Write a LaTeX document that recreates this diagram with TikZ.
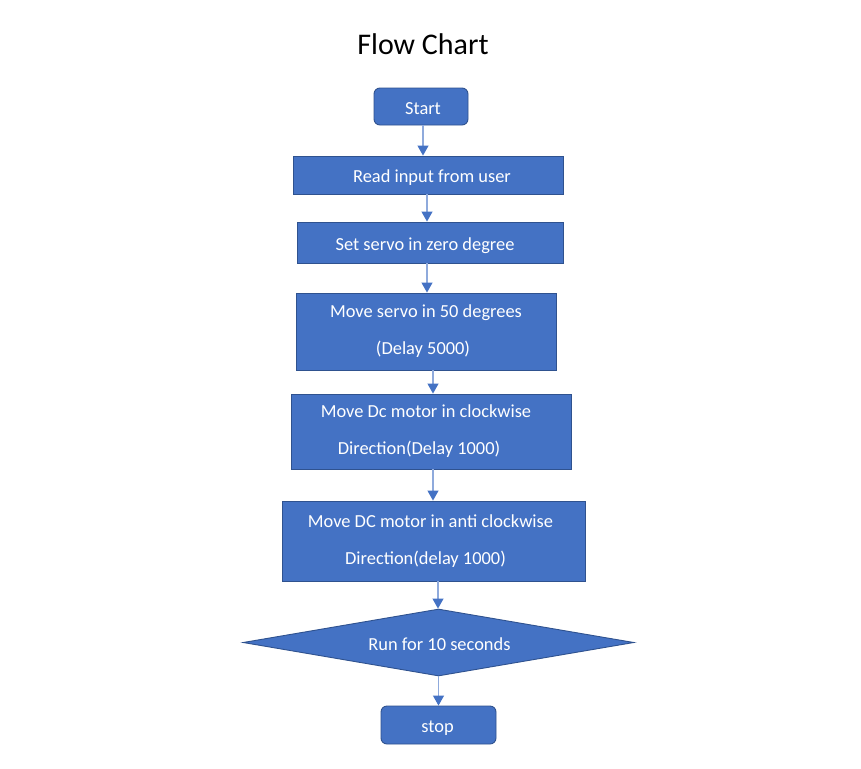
\documentclass[tikz,border=0pt]{standalone}
\usepackage{fontspec}
\setmainfont{Carlito}
\usetikzlibrary{shapes.geometric,arrows.meta}
\definecolor{boxfill}{HTML}{4472C4}
\definecolor{boxline}{HTML}{2F528F}
\definecolor{arrline}{HTML}{8FAADC}
\newcommand\shiftln[2]{\hspace*{#1}#2\hspace*{-#1}}
\begin{document}
\begin{tikzpicture}[x=1pt,y=-1pt,
  procbox/.style={draw=boxline,fill=boxfill,line width=0.9pt,text=white,inner sep=0pt,
    font=\fontsize{18.4}{38}\selectfont,align=center},
  onebox/.style={procbox,text height=15pt,text depth=0pt},
  termbox/.style={onebox,rounded corners=6pt},
  arr/.style={draw=arrline,line width=1.1pt,-{Triangle[width=11pt,length=10pt,color=boxfill]}}]
\useasboundingbox[fill=white] (0,0) rectangle (861,768);
\node[font=\fontsize{30}{36}\selectfont] (title) at (423,44) {Flow Chart};
\node[termbox,minimum width=94pt,minimum height=37pt] (start) at (421,106.5) {\shiftln{2pt}{Start}};
\node[onebox,minimum width=270pt,minimum height=38pt] (read) at (428,175) {\shiftln{4pt}{Read input from user}};
\node[onebox,minimum width=266pt,minimum height=41pt] (set) at (430,242.5) {\shiftln{-5pt}{Set servo in zero degree}};
\node[procbox,minimum width=260pt,minimum height=77pt] (servo) at (426,331.5) {\shiftln{0pt}{Move servo in 50 degrees}\\[-1pt]\shiftln{-3pt}{(Delay 5000)}};
\node[procbox,minimum width=280pt,minimum height=75pt] (cw) at (431,431.5) {\shiftln{-5pt}{Move Dc motor in clockwise}\\[-1pt]\shiftln{-12pt}{Direction(Delay 1000)}};
\node[procbox,minimum width=303pt,minimum height=80pt] (acw) at (433.5,541) {\shiftln{-3pt}{Move DC motor in anti clockwise}\\[-1pt]\shiftln{-8pt}{Direction(delay 1000)}};
\node[shape=diamond,draw=boxline,fill=boxfill,line width=0.9pt,text=white,inner sep=0pt,
  aspect=5.84,minimum width=391pt,minimum height=67pt,font=\fontsize{18.4}{22}\selectfont,
  text height=15pt,text depth=0pt] (run) at (438.5,642.5) {\shiftln{1pt}{Run for 10 seconds}};
\node[termbox,minimum width=115pt,minimum height=38pt] (stop) at (438.5,725) {\shiftln{-1pt}{stop}};
\draw[arr] ([xshift=2pt]start.south) -- ([xshift=2pt]start.south |- read.north);
\draw[arr] ([xshift=-1pt]read.south) -- ([xshift=-1pt]read.south |- set.north);
\draw[arr] ([xshift=-3pt]set.south) -- ([xshift=-3pt]set.south |- servo.north);
\draw[arr] ([xshift=7pt]servo.south) -- ([xshift=7pt]servo.south |- cw.north);
\draw[arr] ([xshift=2pt]cw.south) -- ([xshift=2pt]cw.south |- acw.north);
\draw[arr] ([xshift=4.5pt]acw.south) -- ([xshift=4.5pt]acw.south |- run.north);
\draw[arr] (run.south) -- (run.south |- stop.north);
\end{tikzpicture}
\end{document}
